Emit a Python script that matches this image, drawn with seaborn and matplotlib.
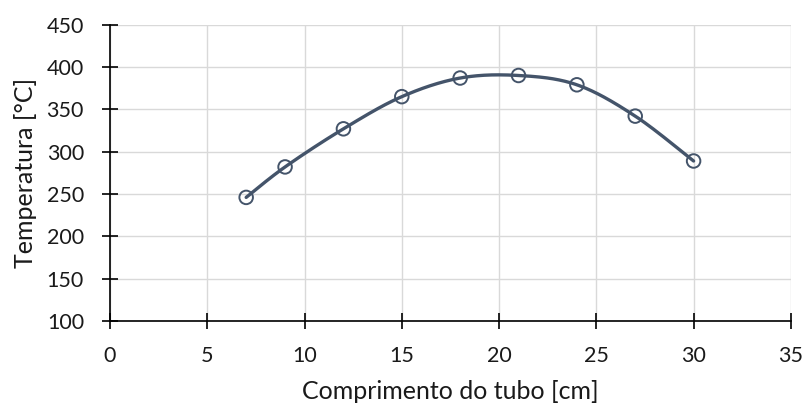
import numpy as np
import pandas as pd
import matplotlib
matplotlib.use("Agg")
import matplotlib.pyplot as plt
import seaborn as sns

# Measured tube temperature profile
comprimento = [7, 9, 12, 15, 18, 21, 24, 27, 30]
temperatura = [246, 282, 327, 365, 387, 390, 379, 342, 289]

x_ticks = [0, 5, 10, 15, 20, 25, 30, 35]
y_ticks = [100, 150, 200, 250, 300, 350, 400, 450]

line_color = "#44546A"
text_color = "#1a1a1a"


def smooth_curve(x, y, steps=40):
    """Catmull-Rom style cubic Bezier smoothing through every point."""
    x = np.asarray(x, float)
    y = np.asarray(y, float)
    px = np.concatenate([[x[0]], x, [x[-1]]])
    py = np.concatenate([[y[0]], y, [y[-1]]])
    xs, ys = [], []
    t = np.linspace(0, 1, steps)
    for i in range(1, len(px) - 2):
        p0 = np.array([px[i], py[i]])
        p3 = np.array([px[i + 1], py[i + 1]])
        c1 = p0 + (np.array([px[i + 1], py[i + 1]]) - np.array([px[i - 1], py[i - 1]])) / 6
        c2 = p3 - (np.array([px[i + 2], py[i + 2]]) - np.array([px[i], py[i]])) / 6
        b = ((1 - t) ** 3)[:, None] * p0 + (3 * (1 - t) ** 2 * t)[:, None] * c1 \
            + (3 * (1 - t) * t ** 2)[:, None] * c2 + (t ** 3)[:, None] * p3
        if i > 1:
            b = b[1:]
        xs.extend(b[:, 0])
        ys.extend(b[:, 1])
    return np.array(xs), np.array(ys)


sns.set_theme(style="white")
plt.rcParams["font.family"] = ["Lato", "DejaVu Sans"]

df = pd.DataFrame({"x": comprimento, "y": temperatura})
sx, sy = smooth_curve(comprimento, temperatura)
curve = pd.DataFrame({"x": sx, "y": sy})

fig = plt.figure(figsize=(8.07, 4.08), dpi=100)
ax = fig.add_axes([0.1363, 0.2132, 0.8437, 0.7263])

sns.lineplot(data=curve, x="x", y="y", ax=ax, color=line_color, linewidth=2.4,
             sort=False, estimator=None, zorder=3)
sns.scatterplot(data=df, x="x", y="y", ax=ax, s=95, facecolor="none",
                edgecolor=line_color, linewidth=1.4, zorder=4)

ax.set_xlim(0, 35)
ax.set_ylim(100, 450)
ax.set_xticks(x_ticks)
ax.set_yticks(y_ticks)
ax.grid(True, color="#d9d9d9", linewidth=1.0)
ax.set_axisbelow(True)

for side in ["top", "right"]:
    ax.spines[side].set_visible(False)
for side in ["left", "bottom"]:
    ax.spines[side].set_color("black")
    ax.spines[side].set_linewidth(1.2)

ax.tick_params(axis="both", which="major", bottom=True, left=True,
               direction="inout", length=11.5, width=1.2,
               color="black", labelsize=15.5, labelcolor=text_color)
ax.tick_params(axis="x", pad=12)
ax.tick_params(axis="y", pad=13)

ax.set_xlabel("Comprimento do tubo [cm]", fontsize=18, color=text_color, labelpad=10)
ax.set_ylabel("Temperatura [°C]", fontsize=18, color=text_color, labelpad=7)

fig.savefig("out.png", dpi=100)
